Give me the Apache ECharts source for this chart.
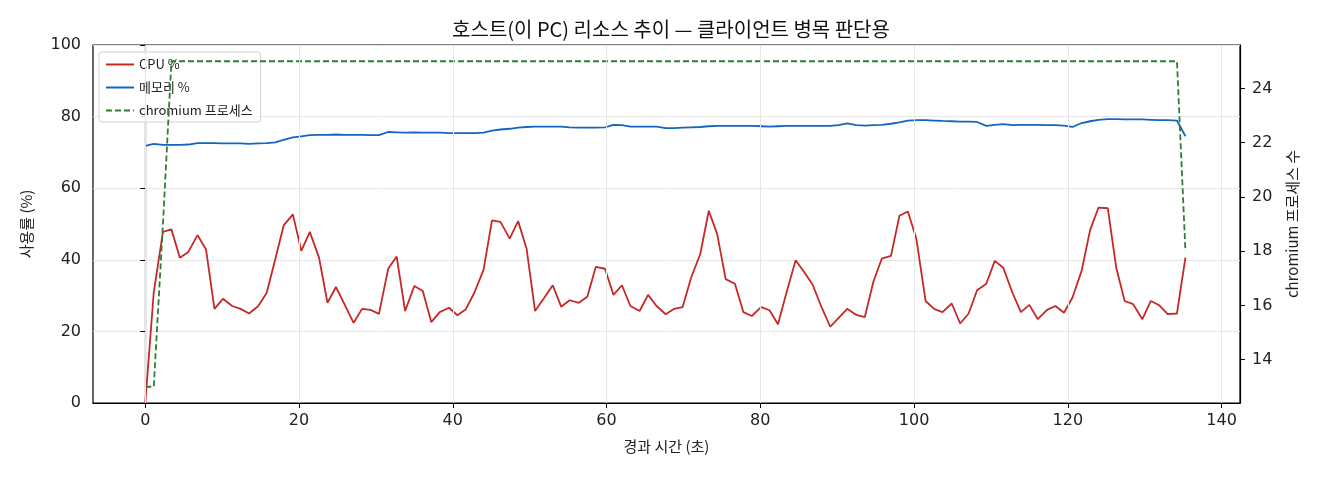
<!DOCTYPE html>
<html>
<head>
<meta charset="utf-8">
<script src="https://cdn.jsdelivr.net/npm/echarts@6/dist/echarts.min.js"></script>
<style>
  html, body { margin: 0; padding: 0; background: #fff; }
  #chart { width: 1320px; height: 480px; }
</style>
</head>
<body>
<div id="chart"></div>
<script>
// 경과 시간 (초)
var times = [
    0.0, 1.1, 2.3, 3.4, 4.5, 5.6, 6.8, 7.9, 9.0, 10.1, 11.3, 12.4, 13.5, 14.7, 15.8, 16.9, 18.0, 19.2, 20.3, 21.4,
    22.6, 23.7, 24.8, 25.9, 27.1, 28.2, 29.3, 30.4, 31.6, 32.7, 33.8, 35.0, 36.1, 37.2, 38.3, 39.5, 40.6, 41.7, 42.8, 44.0,
    45.1, 46.2, 47.4, 48.5, 49.6, 50.7, 51.9, 53.0, 54.1, 55.2, 56.4, 57.5, 58.6, 59.8, 60.9, 62.0, 63.1, 64.3, 65.4, 66.5,
    67.7, 68.8, 69.9, 71.0, 72.2, 73.3, 74.4, 75.5, 76.7, 77.8, 78.9, 80.1, 81.2, 82.3, 83.4, 84.6, 85.7, 86.8, 87.9, 89.1,
    90.2, 91.3, 92.5, 93.6, 94.7, 95.8, 97.0, 98.1, 99.2, 100.3, 101.5, 102.6, 103.7, 104.9, 106.0, 107.1, 108.2, 109.4, 110.5, 111.6,
    112.8, 113.9, 115.0, 116.1, 117.3, 118.4, 119.5, 120.6, 121.8, 122.9, 124.0, 125.2, 126.3, 127.4, 128.5, 129.7, 130.8, 131.9, 133.0, 134.2,
    135.3
];

var cpuPct = [
    0, 30.8, 47.8, 48.5, 40.6, 42.2, 46.9, 42.9, 26.3, 29.1, 27.1, 26.3, 25.0, 27.1, 30.8, 40.1, 49.6, 52.7, 42.5, 47.8,
    40.6, 28.0, 32.4, 27.6, 22.4, 26.3, 26.0, 24.9, 37.5, 40.9, 25.7, 32.7, 31.3, 22.6, 25.4, 26.6, 24.5, 26.2, 30.8, 37.2,
    51.0, 50.6, 45.9, 50.8, 43.1, 25.7, 29.4, 32.9, 26.9, 28.7, 28.0, 29.7, 38.0, 37.5, 30.2, 32.9, 27.1, 25.7, 30.2, 27.1,
    24.8, 26.3, 26.8, 35.0, 41.7, 53.7, 47.1, 34.6, 33.3, 25.4, 24.3, 26.8, 25.9, 22.0, 30.8, 39.9, 36.6, 33.1, 27.1, 21.3,
    23.8, 26.3, 24.6, 24.0, 33.8, 40.3, 41.1, 52.3, 53.5, 45.9, 28.5, 26.3, 25.4, 27.8, 22.2, 25.0, 31.5, 33.3, 39.7, 37.8,
    30.8, 25.4, 27.4, 23.4, 26.0, 27.1, 25.2, 29.4, 36.9, 48.3, 54.6, 54.4, 37.8, 28.5, 27.6, 23.4, 28.5, 27.3, 24.8, 25.0,
    40.6
];

var memPct = [
    71.8, 72.4, 72.1, 72.1, 72.1, 72.2, 72.6, 72.6, 72.6, 72.5, 72.5, 72.5, 72.4, 72.5, 72.6, 72.8, 73.5, 74.2, 74.5, 74.8,
    74.9, 74.9, 75.0, 74.9, 74.9, 74.9, 74.8, 74.8, 75.7, 75.6, 75.5, 75.6, 75.5, 75.5, 75.5, 75.4, 75.4, 75.4, 75.4, 75.5,
    76.1, 76.4, 76.6, 76.9, 77.1, 77.2, 77.2, 77.2, 77.2, 77.0, 76.9, 76.9, 76.9, 77.0, 77.7, 77.6, 77.2, 77.2, 77.2, 77.2,
    76.8, 76.8, 76.9, 77.0, 77.1, 77.3, 77.4, 77.4, 77.4, 77.4, 77.4, 77.3, 77.2, 77.3, 77.4, 77.4, 77.4, 77.4, 77.4, 77.4,
    77.6, 78.1, 77.6, 77.5, 77.6, 77.7, 78.0, 78.4, 78.9, 79.0, 79.0, 78.9, 78.8, 78.7, 78.6, 78.6, 78.5, 77.4, 77.7, 77.9,
    77.6, 77.7, 77.7, 77.7, 77.6, 77.6, 77.5, 77.1, 78.2, 78.7, 79.1, 79.3, 79.3, 79.2, 79.2, 79.2, 79.1, 79.0, 79.0, 78.9,
    74.5
];

var chromiumCount = [
    13, 13, 19, 25, 25, 25, 25, 25, 25, 25, 25, 25, 25, 25, 25, 25, 25, 25, 25, 25,
    25, 25, 25, 25, 25, 25, 25, 25, 25, 25, 25, 25, 25, 25, 25, 25, 25, 25, 25, 25,
    25, 25, 25, 25, 25, 25, 25, 25, 25, 25, 25, 25, 25, 25, 25, 25, 25, 25, 25, 25,
    25, 25, 25, 25, 25, 25, 25, 25, 25, 25, 25, 25, 25, 25, 25, 25, 25, 25, 25, 25,
    25, 25, 25, 25, 25, 25, 25, 25, 25, 25, 25, 25, 25, 25, 25, 25, 25, 25, 25, 25,
    25, 25, 25, 25, 25, 25, 25, 25, 25, 25, 25, 25, 25, 25, 25, 25, 25, 25, 25, 25,
    18
];

var xTicks = [0, 20, 40, 60, 80, 100, 120, 140];
var rightTicks = [14, 16, 18, 20, 22, 24];

var korFont = 'Noto Sans CJK KR';
var numFont = 'DejaVu Sans';

function pairs(vals) {
    return times.map(function (t, i) { return [t, vals[i]]; });
}

var myChart = echarts.init(document.getElementById('chart'));

var option = {
    animation: false,
    backgroundColor: '#fff',
    title: {
        text: '호스트(이 PC) 리소스 추이 — 클라이언트 병목 판단용',
        left: 666,
        textAlign: 'center',
        top: 14,
        textStyle: { fontFamily: korFont, fontSize: 20, fontWeight: 'normal', color: '#111' }
    },
    legend: {
        left: 99,
        top: 52,
        orient: 'vertical',
        backgroundColor: 'rgba(255,255,255,0.85)',
        borderColor: '#d0d0d0',
        borderWidth: 1,
        borderRadius: 3,
        padding: [6, 8, 5, 6],
        itemGap: 10,
        itemWidth: 28,
        itemHeight: 14,
        // 기호(원) 숨기고 선만 표시
        itemStyle: { opacity: 0 },
        textStyle: { fontFamily: korFont, fontSize: 13, color: '#222' },
        data: ['CPU %', '메모리 %', 'chromium 프로세스']
    },
    grid: {
        left: 93,
        right: 80,
        top: 45,
        bottom: 77,
        show: true,
        borderColor: '#000',
        borderWidth: 1.2
    },
    xAxis: {
        type: 'value',
        min: -6.8,
        max: 142.4,
        name: '경과 시간 (초)',
        nameLocation: 'middle',
        nameGap: 36,
        nameTextStyle: { fontFamily: korFont, fontSize: 15, color: '#222' },
        axisLine: { show: true, onZero: false, lineStyle: { color: '#000', width: 1.2 } },
        axisTick: { show: true, length: 5, customValues: xTicks, lineStyle: { color: '#000' } },
        axisLabel: { customValues: xTicks, margin: 10, fontFamily: numFont, fontSize: 16, color: '#222' },
        splitLine: { show: false }
    },
    yAxis: [
        {
            type: 'value',
            min: 0,
            max: 100,
            interval: 20,
            name: '사용률 (%)',
            nameLocation: 'middle',
            nameRotate: 90,
            nameGap: 59,
            nameTextStyle: { fontFamily: korFont, fontSize: 15, color: '#222' },
            axisLine: { show: true, lineStyle: { color: '#000', width: 1.2 } },
            axisTick: { show: true, length: 5, lineStyle: { color: '#000' } },
            axisLabel: { margin: 12, fontFamily: numFont, fontSize: 16, color: '#222' },
            splitLine: { show: true, lineStyle: { color: '#e6e6e6', width: 1 } }
        },
        {
            type: 'value',
            min: 12.4,
            max: 25.6,
            position: 'right',
            name: 'chromium 프로세스 수',
            nameLocation: 'middle',
            nameRotate: 90,
            nameGap: 45,
            nameTextStyle: { fontFamily: korFont, fontSize: 15, color: '#222' },
            axisLine: { show: true, lineStyle: { color: '#000', width: 1.2 } },
            axisTick: { show: true, length: 5, customValues: rightTicks, lineStyle: { color: '#000' } },
            axisLabel: { customValues: rightTicks, margin: 12, fontFamily: numFont, fontSize: 16, color: '#222' },
            splitLine: { show: false }
        }
    ],
    series: [
        {
            name: 'CPU %',
            type: 'line',
            data: pairs(cpuPct),
            symbol: 'none',
            lineStyle: { color: '#c62828', width: 1.8 },
            itemStyle: { color: '#c62828' },
            z: 3,
            // 세로 그리드 (x 눈금 위치)
            markLine: {
                silent: true,
                symbol: 'none',
                label: { show: false },
                lineStyle: { color: '#e6e6e6', type: 'solid', width: 1 },
                data: xTicks.map(function (v) { return { xAxis: v }; })
            }
        },
        {
            name: '메모리 %',
            type: 'line',
            data: pairs(memPct),
            symbol: 'none',
            lineStyle: { color: '#1565c0', width: 1.8 },
            itemStyle: { color: '#1565c0' },
            z: 3
        },
        {
            name: 'chromium 프로세스',
            type: 'line',
            yAxisIndex: 1,
            data: pairs(chromiumCount),
            symbol: 'none',
            lineStyle: { color: '#2e7d32', width: 1.8, type: [6, 3] },
            itemStyle: { color: '#2e7d32' },
            z: 4
        }
    ]
};

myChart.setOption(option);
</script>
</body>
</html>
